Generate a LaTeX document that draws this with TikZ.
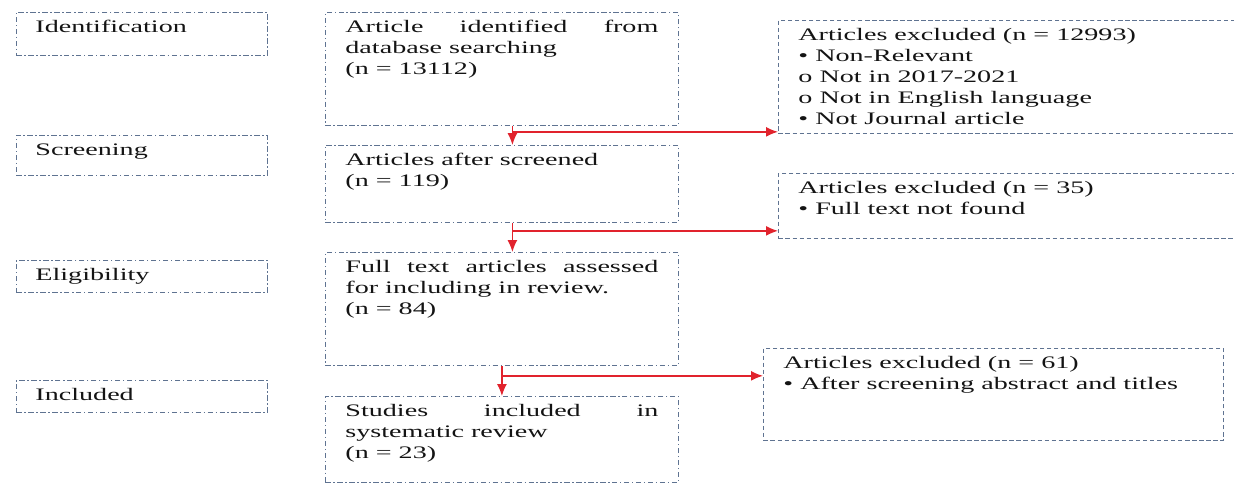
\documentclass[tikz,border=0pt]{standalone}
\usepackage{fontspec}
\setmainfont{Liberation Serif}[FakeStretch=1.6]
\usetikzlibrary{arrows.meta,calc}
\definecolor{boxline}{RGB}{95,115,145}
\definecolor{flowred}{RGB}{225,35,45}
% fixed-size cell with text set from the top
\newcommand{\boxcell}[3]{\parbox[c][#2][t]{#1}{#3}}

\begin{document}
\begin{tikzpicture}[x=0.02cm, y=-0.02cm,
  every node/.style={font=\fontsize{10}{12}\selectfont, text=black!92},
  stage/.style={draw=boxline, line width=0.5pt, anchor=north west,
    dash pattern=on 3pt off 1.5pt on 0.8pt off 1.5pt},
  phase/.style={stage, inner xsep=0.38cm, inner ysep=0.16cm},
  count/.style={stage, inner xsep=0.4cm, inner ysep=0.16cm},
  excl/.style={count, dash pattern=on 2.5pt off 1.5pt},
  flow/.style={draw=flowred, line width=0.8pt, -{Latex[length=2.4mm,width=2mm]}}]
\useasboundingbox (0,0) rectangle (1234,484);
% phase labels
\node[phase] (pid) at (16,12) {\boxcell{4.26cm}{0.54cm}{Identification}};
\node[phase] (psc) at (16,135) {\boxcell{4.26cm}{0.48cm}{Screening}};
\node[phase] (pel) at (16,260) {\boxcell{4.26cm}{0.32cm}{Eligibility}};
\node[phase] (pin) at (16,380) {\boxcell{4.26cm}{0.32cm}{Included}};
% main column
\node[count] (m1) at (325,12) {\boxcell{6.26cm}{1.94cm}{Article\hfill identified\hfill from\\database searching\\(n = 13112)}};
\node[count] (m2) at (325,145) {\boxcell{6.26cm}{1.22cm}{Articles after screened\\(n = 119)}};
\node[count] (m3) at (325,252) {\boxcell{6.26cm}{1.94cm}{Full\hfill text\hfill articles\hfill assessed\\for including in review.\\(n = 84)}};
\node[count] (m4) at (325,396) {\boxcell{6.26cm}{1.40cm}{Studies\hfill included\hfill in\\systematic review\\(n = 23)}};
% exclusions
\node[excl] (r1) at (778,20) {\boxcell{8.4cm}{1.94cm}{Articles excluded (n = 12993)\\• Non-Relevant\\o Not in 2017-2021\\o Not in English language\\• Not Journal article}};
\node[excl] (r2) at (778,173) {\boxcell{8.4cm}{0.98cm}{Articles excluded (n = 35)\\• Full text not found}};
\node[excl] (r3) at (763,348) {\boxcell{8.4cm}{1.52cm}{Articles excluded (n = 61)\\• After screening abstract and titles}};
% arrows
\draw[flow] ([xshift=0.21cm]m1.south) -- ([xshift=0.21cm]m2.north);
\coordinate (j1) at ([xshift=0.21cm,yshift=-0.12cm]m1.south);
\draw[flow] (j1) -- (j1 -| r1.west);
\draw[flow] ([xshift=0.21cm]m2.south) -- ([xshift=0.21cm]m3.north);
\coordinate (j2) at ([xshift=0.21cm,yshift=-0.16cm]m2.south);
\draw[flow] (j2) -- (j2 -| r2.west);
\draw[flow] (m3.south) -- (m4.north);
\coordinate (j3) at ([yshift=-0.2cm]m3.south);
\draw[flow] (j3) -- (j3 -| r3.west);
\end{tikzpicture}
\end{document}
